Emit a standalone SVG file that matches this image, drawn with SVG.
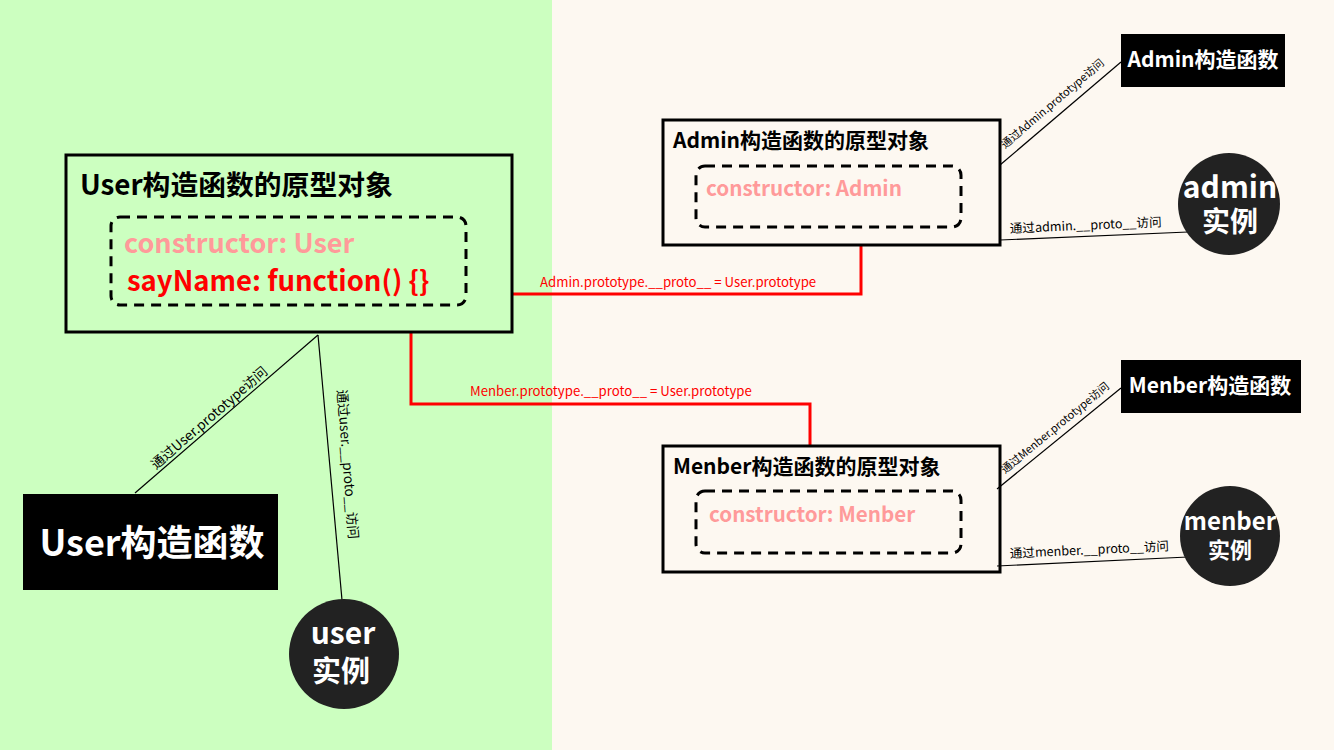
<svg xmlns="http://www.w3.org/2000/svg" width="1334" height="750" viewBox="0 0 1334 750">
<style>
text{font-family:"Noto Sans CJK SC","Noto Sans",sans-serif;}
.box{fill:none;stroke:#000;stroke-width:3;}
.dash{fill:none;stroke:#000;stroke-width:3;stroke-dasharray:10 7;}
.title{font-weight:bold;fill:#000;}
.ctor{font-weight:bold;fill:#ff9a9a;}
.fn{font-weight:bold;fill:#ff0000;}
.blk{fill:#000;}
.wt{font-weight:bold;fill:#fff;text-anchor:middle;}
.circ{fill:#222;}
.thin{stroke:#000;stroke-width:1.2;fill:none;}
.red{stroke:#ff0000;stroke-width:3;fill:none;}
.lbl{font-size:12.6px;fill:#000;}
.rlbl{font-size:13.2px;fill:#ff0000;}
</style>
<rect x="0" y="0" width="552" height="750" fill="#ccffc0"/>
<rect x="552" y="0" width="782" height="750" fill="#fdf8f1"/>

<g id="connectors">
<polyline class="red" points="512,294 861,294 861,245"/>
<polyline class="red" points="411,333 411,404 810,404 810,446"/>
<text class="rlbl" x="540" y="287">Admin.prototype.__proto__ = User.prototype</text>
<text class="rlbl" x="470" y="396">Menber.prototype.__proto__ = User.prototype</text>
<line class="thin" x1="318" y1="335" x2="135" y2="493"/>
<text class="lbl" style="font-size:13.6px" transform="translate(156,470) rotate(-40.8)">通过User.prototype访问</text>
<line class="thin" x1="318" y1="335" x2="342" y2="600"/>
<text class="lbl" style="font-size:13.6px" transform="translate(337,390) rotate(85.5)">通过user.__proto__访问</text>
<line class="thin" x1="1000" y1="165" x2="1121" y2="62"/>
<text class="lbl" style="font-size:11px" transform="translate(1005,149) rotate(-40.4)">通过Admin.prototype访问</text>
<line class="thin" x1="1000" y1="240" x2="1188" y2="232"/>
<text class="lbl" transform="translate(1010,233) rotate(-2.5)">通过admin.__proto__访问</text>
<line class="thin" x1="997" y1="489" x2="1121" y2="388"/>
<text class="lbl" style="font-size:11px" transform="translate(1005,474) rotate(-39.5)">通过Menber.prototype访问</text>
<line class="thin" x1="997" y1="566" x2="1188" y2="557"/>
<text class="lbl" transform="translate(1010,558) rotate(-2.7)">通过menber.__proto__访问</text>
</g>

<g id="user-prototype">
<rect class="box" x="66" y="155" width="446" height="177"/>
<text class="title" x="80" y="195" font-size="27.8">User构造函数的原型对象</text>
<rect class="dash" x="111" y="217" width="355" height="88" rx="9"/>
<text class="ctor" x="124" y="253" font-size="27">constructor: User</text>
<text class="fn" x="127" y="291" font-size="27.5">sayName: function() {}</text>
</g>

<g id="user-constructor">
<rect class="blk" x="23" y="494" width="255" height="96"/>
<text class="wt" x="152" y="556" font-size="36">User构造函数</text>
</g>

<g id="user-instance">
<circle class="circ" cx="344" cy="654" r="55"/>
<text class="wt"><tspan x="343" y="644" font-size="30">user</tspan><tspan x="341" y="682" font-size="29">实例</tspan></text>
</g>

<g id="admin-prototype">
<rect class="box" x="663" y="120" width="337" height="125"/>
<text class="title" x="673" y="148" font-size="21">Admin构造函数的原型对象</text>
<rect class="dash" x="696" y="166" width="265" height="61" rx="9"/>
<text class="ctor" x="706" y="196" font-size="20.7">constructor: Admin</text>
</g>

<g id="admin-constructor">
<rect class="blk" x="1121" y="34" width="164" height="53"/>
<text class="wt" x="1203" y="67" font-size="21">Admin构造函数</text>
</g>

<g id="admin-instance">
<circle class="circ" cx="1229" cy="204" r="51"/>
<text class="wt"><tspan x="1230" y="198" font-size="30">admin</tspan><tspan x="1230" y="232" font-size="28">实例</tspan></text>
</g>

<g id="menber-prototype">
<rect class="box" x="663" y="446" width="337" height="126"/>
<text class="title" x="673" y="474" font-size="21">Menber构造函数的原型对象</text>
<rect class="dash" x="696" y="491" width="265" height="62" rx="9"/>
<text class="ctor" x="709" y="522" font-size="20.6">constructor: Menber</text>
</g>

<g id="menber-constructor">
<rect class="blk" x="1121" y="360" width="180" height="53"/>
<text class="wt" x="1210" y="393" font-size="21">Menber构造函数</text>
</g>

<g id="menber-instance">
<circle class="circ" cx="1230" cy="536" r="50"/>
<text class="wt"><tspan x="1230" y="530" font-size="24">menber</tspan><tspan x="1230" y="558" font-size="22">实例</tspan></text>
</g>
</svg>
